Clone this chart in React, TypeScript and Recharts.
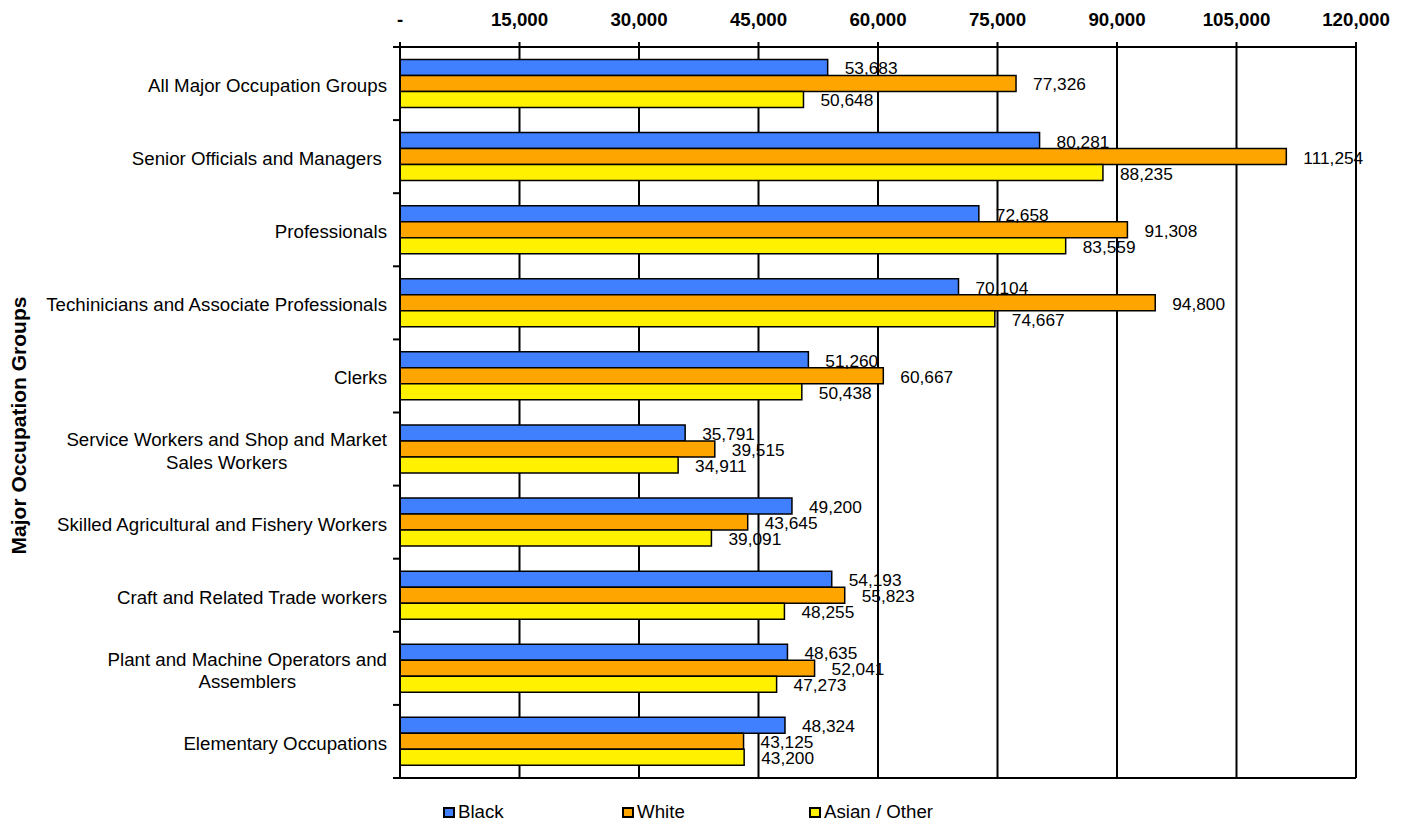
import React from 'react';
import { BarChart, Bar, XAxis, YAxis, CartesianGrid, LabelList, Legend } from 'recharts';

const categories = [
  'All Major Occupation Groups',
  'Senior Officials and Managers ',
  'Professionals',
  'Techinicians and Associate Professionals',
  'Clerks',
  'Service Workers and Shop and Market Sales Workers',
  'Skilled Agricultural and Fishery Workers',
  'Craft and Related Trade workers',
  'Plant and Machine Operators and Assemblers',
  'Elementary Occupations',
];
const blackValues = [53683, 80281, 72658, 70104, 51260, 35791, 49200, 54193, 48635, 48324];
const whiteValues = [77326, 111254, 91308, 94800, 60667, 39515, 43645, 55823, 52041, 43125];
const asianValues = [50648, 88235, 83559, 74667, 50438, 34911, 39091, 48255, 47273, 43200];
const seriesNames = ['Black', 'White', 'Asian / Other'];
const xTicks = [0, 15000, 30000, 45000, 60000, 75000, 90000, 105000, 120000];
const axisTitle = 'Major Occupation Groups';

const data = categories.map((name, i) => ({
  name,
  black: blackValues[i],
  white: whiteValues[i],
  asian: asianValues[i],
}));

const FONT = '"Liberation Sans", Arial, sans-serif';
const CAT_SIZE = 18.7;
const TICK_MARGIN = 13;

let ctx: CanvasRenderingContext2D | null = null;
function measure(text: string, size: number, weight = 'normal'): number {
  if (!ctx) ctx = document.createElement('canvas').getContext('2d');
  if (!ctx) return text.length * size * 0.5;
  ctx.font = `${weight} ${size}px "Liberation Sans"`;
  return ctx.measureText(text).width;
}

const fmt = (v: number) => v.toLocaleString('en-US');
const fmtTick = (v: number) => (v === 0 ? '-' : fmt(v));

const EmptyTick = () => <g />;

const CategoryTick = (props: any) => {
  const { x, y, payload, index, visibleTicksCount } = props;
  const full = String(payload.value);
  const maxW = 360;
  const axisX = x + TICK_MARGIN;
  const half = typeof payload.offset === 'number' && payload.offset > 0 ? payload.offset : 36.55;
  const isLast = visibleTicksCount ? index === visibleTicksCount - 1 : index === categories.length - 1;
  const marks = (
    <>
      <line x1={axisX - 7} x2={axisX} y1={y - half} y2={y - half} stroke="#000" strokeWidth={2} />
      {isLast && <line x1={axisX - 7} x2={axisX} y1={y + half} y2={y + half} stroke="#000" strokeWidth={2} />}
    </>
  );
  if (measure(full, CAT_SIZE) <= maxW) {
    return (
      <g>
        {marks}
        <text x={x} y={y + 8.5} textAnchor="end" fontSize={CAT_SIZE} fontFamily={FONT} fill="#000" style={{ whiteSpace: 'pre' }}>
          {full}
        </text>
      </g>
    );
  }
  const words = full.trim().split(' ');
  const lines: string[] = [];
  let cur = '';
  words.forEach((w) => {
    const test = cur ? cur + ' ' + w : w;
    if (measure(test, CAT_SIZE) > maxW && cur) {
      lines.push(cur);
      cur = w;
    } else cur = test;
  });
  if (cur) lines.push(cur);
  const block = Math.max(...lines.map((l) => measure(l, CAT_SIZE)));
  const cx = x - block / 2;
  const lh = 22.3;
  const startDy = 8.5 - ((lines.length - 1) * lh) / 2;
  return (
    <g>
      {marks}
      <text x={cx} y={y} textAnchor="middle" fontSize={CAT_SIZE} fontFamily={FONT} fill="#000">
        {lines.map((l, i) => (
          <tspan key={i} x={cx} y={y + startDy + i * lh}>
            {l}
          </tspan>
        ))}
      </text>
    </g>
  );
};

const ValueLabel = (props: any) => {
  const { x, y, width, height, value } = props;
  return (
    <text x={x + width + 17} y={y + height / 2 + 1} dominantBaseline="central" fontSize={17.3} fontFamily={FONT} fill="#000">
      {fmt(value)}
    </text>
  );
};

const AxisTitle = (props: any) => {
  const vb = props.viewBox || { x: 0, y: 47, width: 400, height: 731 };
  const tx = vb.x + 26;
  const ty = vb.y + vb.height / 2 + 13;
  return (
    <text x={tx} y={ty} transform={`rotate(-90, ${tx}, ${ty})`} textAnchor="middle" fontSize={21} fontWeight="bold" fontFamily={FONT} fill="#000">
      {axisTitle}
    </text>
  );
};

const LegendContent = (props: any) => {
  const payload = [...(props.payload || [])].sort(
    (a: any, b: any) => seriesNames.indexOf(a.value) - seriesNames.indexOf(b.value)
  );
  const widths = [179, 187, undefined];
  return (
    <div style={{ display: 'flex', alignItems: 'center', fontFamily: FONT, fontSize: 18.7, lineHeight: '22px', color: '#000' }}>
      {payload.map((entry: any, i: number) => (
        <div key={i} style={{ display: 'flex', alignItems: 'center', width: widths[i], whiteSpace: 'nowrap' }}>
          <span
            style={{
              display: 'inline-block',
              width: 12,
              height: 11,
              boxSizing: 'border-box',
              border: '2px solid #000',
              background: entry.color,
              marginRight: 3,
            }}
          />
          <span>{entry.value}</span>
        </div>
      ))}
    </div>
  );
};

export default function App() {
  return (
    <div style={{ position: 'absolute', left: 0, top: 0, width: 1406, height: 825, background: '#fff', fontFamily: FONT }}>
      <BarChart
        width={1406}
        height={825}
        data={data}
        layout="vertical"
        margin={{ top: 0, right: 50, bottom: 46, left: 0 }}
        barCategoryGap="17%"
        barGap={0}
      >
        <CartesianGrid xAxisId="top" yAxisId="cat" horizontal={false} vertical stroke="#000" strokeWidth={2} />
        <XAxis
          xAxisId="top"
          orientation="top"
          type="number"
          domain={[0, 120000]}
          ticks={xTicks}
          interval={0}
          allowDataOverflow
          height={47}
          tickSize={5}
          tickMargin={16}
          tickFormatter={fmtTick}
          axisLine={{ stroke: '#000', strokeWidth: 2 }}
          tickLine={{ stroke: '#000', strokeWidth: 2 }}
          tick={{ fill: '#000', fontSize: 18.7, fontWeight: 'bold', fontFamily: FONT }}
        />
        <XAxis
          xAxisId="bottom"
          orientation="bottom"
          type="number"
          domain={[0, 120000]}
          ticks={xTicks}
          allowDataOverflow
          height={1}
          tick={<EmptyTick />}
          tickLine={false}
          axisLine={{ stroke: '#000', strokeWidth: 2 }}
        />
        <YAxis
          yAxisId="cat"
          orientation="left"
          type="category"
          dataKey="name"
          width={400}
          interval={0}
          tickLine={false}
          axisLine={{ stroke: '#000', strokeWidth: 2 }}
          tickSize={0}
          tickMargin={TICK_MARGIN}
          tick={<CategoryTick />}
          label={{ content: (p: any) => <AxisTitle {...p} /> }}
        />
        <Legend
          layout="horizontal"
          verticalAlign="middle"
          align="center"
          wrapperStyle={{ top: 801, left: 443, width: 'auto', height: 'auto' }}
          content={<LegendContent />}
        />
        <Bar dataKey="black" name={seriesNames[0]} xAxisId="top" yAxisId="cat" fill="#4080FF" stroke="#000" strokeWidth={1.5} isAnimationActive={false}>
          <LabelList dataKey="black" content={<ValueLabel />} />
        </Bar>
        <Bar dataKey="white" name={seriesNames[1]} xAxisId="top" yAxisId="cat" fill="#FFA500" stroke="#000" strokeWidth={1.5} isAnimationActive={false}>
          <LabelList dataKey="white" content={<ValueLabel />} />
        </Bar>
        <Bar dataKey="asian" name={seriesNames[2]} xAxisId="top" yAxisId="cat" fill="#FFF100" stroke="#000" strokeWidth={1.5} isAnimationActive={false}>
          <LabelList dataKey="asian" content={<ValueLabel />} />
        </Bar>
      </BarChart>
    </div>
  );
}
